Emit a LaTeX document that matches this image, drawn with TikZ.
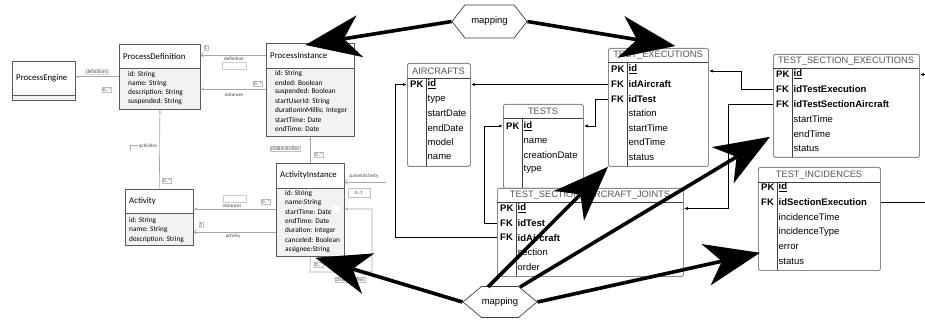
\documentclass[tikz,border=0pt]{standalone}
\usepackage{fontspec}
\setmainfont{Liberation Sans}
\newfontfamily\umlfont{Carlito}
\usetikzlibrary{arrows.meta,calc,shapes.symbols}
\definecolor{umlline}{HTML}{A6A6A6}
\definecolor{umlborder}{HTML}{5A5A5A}
\definecolor{umlfill}{HTML}{F2F2F2}
\definecolor{ergray}{HTML}{8A8A8A}
\definecolor{ertext}{HTML}{555555}
\tikzset{
  umlbox/.style={draw=umlborder, line width=0.7pt, inner sep=0pt},
  umltitle/.style={font={\umlfont\fontsize{8.8}{10}\selectfont}, anchor=west, inner sep=0pt},
  umlattr/.style={font={\umlfont\fontsize{7.3}{9}\selectfont}, anchor=west, inner sep=0pt},
  umlconn/.style={draw=umlline, line width=0.6pt},
  umllab/.style={font={\umlfont\fontsize{5}{6}\selectfont}, text=black!75, inner sep=0.8pt},
  umlboxlab/.style={umllab, draw=black!25, line width=0.3pt},
  emptylab/.style={draw=black!20, line width=0.3pt, inner sep=0pt},
  filledtip/.style={-{Latex[length=3pt,width=2.6pt]}},
  opentip/.style={-{Straight Barb[length=2.5pt,width=5pt]}},
  ertabbox/.style={draw=ergray, line width=0.8pt, rounded corners=1.5pt, fill=white, inner sep=0pt},
  erdiv/.style={draw=black!75, line width=0.6pt},
  ertitle/.style={font={\fontsize{9.3}{11}\selectfont}, text=ertext, inner sep=0pt},
  erkeyst/.style={font={\fontsize{9.5}{11}\selectfont\bfseries}, anchor=west, inner sep=0pt},
  erfld/.style={font={\fontsize{9.5}{11}\selectfont}, anchor=west, inner sep=0pt},
  erfk/.style={font={\fontsize{9.5}{11}\selectfont\bfseries}, anchor=west, inner sep=0pt},
  erconn/.style={draw=black, line width=0.8pt, -{Latex[length=4pt,width=3pt]}},
  erline/.style={draw=black, line width=0.8pt},
  mapnode/.style={signal, signal to=west and east, draw=black!75, line width=0.7pt, fill=white,
     font={\fontsize{9.5}{11}\selectfont}, inner sep=0pt},
  bigarrow/.style={draw=black, line width=3.6pt, -{Stealth[length=55pt,width=42pt,inset=16pt]}}
}
\newcommand\umlclass[7]{% name, x, y, w, h, header bottom y, title
  \node[umlbox, fill=umlfill, minimum width=#4pt, minimum height=#5pt, anchor=north west] (#1) at (#2,#3) {};
  \path[fill=white, draw=umlborder, line width=0.6pt] (#1.north west) rectangle (#2+#4,#6);
  \node[umltitle] (#1-title) at (#2+4,{(#3+#6)/2}) {#7};
}
\newcommand\ertable[8]{% name, x, y, w, h, header bottom y, divider x, title
  \node[ertabbox, minimum width=#4pt, minimum height=#5pt, anchor=north west] (#1) at (#2,#3) {};
  \draw[erdiv] (#2,#6) -- (#2+#4,#6);
  \draw[erdiv] (#7,#6) -- (#7,#3+#5);
  \node[ertitle] (#1-title) at ({#2+#4/2},{(#3+#6)/2+0.5}) {#8};
}
\begin{document}
\begin{tikzpicture}[x=1pt,y=-1pt]
\fill[white] (0,0) rectangle (925,320);
\useasboundingbox (0,0) rectangle (925,320);

% ---------------- UML classes ----------------
\umlclass{peng}{12}{61}{63}{39}{95}{ProcessEngine}

\umlclass{pdef}{119}{44}{81}{65}{68}{ProcessDefinition}
\node[umlattr] (pdef-a1) at (128,74.5) {id: String};
\node[umlattr] (pdef-a2) at (128,83.5) {name: String};
\node[umlattr] (pdef-a3) at (128,92.7) {description: String};
\node[umlattr] (pdef-a4) at (128,101.7) {suspended: String};

\umlclass{pinst}{266}{43}{88}{93}{68}{ProcessInstance}
\node[umlattr] (pinst-a1) at (275,73.5) {id: String};
\node[umlattr] (pinst-a2) at (275,82.8) {ended: Boolean};
\node[umlattr] (pinst-a3) at (275,92) {suspended: Boolean};
\node[umlattr] (pinst-a4) at (275,101.3) {startUserId: String};
\node[umlattr] (pinst-a5) at (275,110.6) {durationInMillis: Integer};
\node[umlattr] (pinst-a6) at (275,120) {startTime: Date};
\node[umlattr] (pinst-a7) at (275,129.3) {endTime: Date};

\umlclass{act}{125}{189}{68}{56}{213}{Activity}
\node[umlattr] (act-a1) at (129,220.7) {id: String};
\node[umlattr] (act-a2) at (129,230) {name: String};
\node[umlattr] (act-a3) at (129,239.3) {description: String};

\umlclass{ainst}{276}{163}{68}{93}{188}{ActivityInstance}
\node[umlattr] (ainst-a1) at (285,193.5) {id: String};
\node[umlattr] (ainst-a2) at (285,202.8) {name:String};
\node[umlattr] (ainst-a3) at (285,212) {startTime: Date};
\node[umlattr] (ainst-a4) at (285,221.3) {endTime: Date};
\node[umlattr] (ainst-a5) at (285,230.6) {duration: Integer};
\node[umlattr] (ainst-a6) at (285,240) {canceled: Boolean};
\node[umlattr] (ainst-a7) at (285,249.3) {assignee:String};
\node[fill=white, minimum width=7pt, minimum height=6pt, inner sep=0pt] (ainst-w) at (336.5,209) {};

% ---------------- UML associations ----------------
\draw[umlconn, filledtip] (pdef.west |- 0,76.7) -- (peng.east |- 0,76.7);
\node[umlboxlab, draw=black!15] (l-defs) at (97,71.5) {definitions};
\node[umlboxlab] (m-defs) at (107,90) {0..*};

\draw[umlconn, opentip] (pinst.west |- 0,55) -- (pdef.east |- 0,55);
\node[umllab] (l-def) at (234,58.5) {definition};
\node[emptylab, minimum width=24pt, minimum height=7pt] (e-def) at (234,65.5) {};
\node[umlboxlab] (m-def) at (206,47.5) {1};

\draw[umlconn, filledtip] (pinst.west |- 0,89) -- (pdef.east |- 0,89);
\node[umllab] (l-inst) at (234,95) {instances};
\node[umlboxlab] (m-inst) at (258,84) {0..*};

\draw[umlconn, filledtip] (act.north) -- (pdef.south);
\node[umllab] (l-acts) at (148,145.5) {activities};
\draw[umlconn, line width=0.4pt] (l-acts.west) -- ++(-8,0) -- ++(0,6);
\node[umlboxlab] (m-acts) at (167,181) {0..*};

\draw[umlconn, filledtip] (ainst.north) -- (pinst.south);
\node[umlboxlab] (l-child) at (285,149) {childActivities};
\node[umlboxlab] (m-child) at (319,155) {0..*};

\draw[umlconn, filledtip] (ainst.west |- 0,209) -- (act.east |- 0,209);
\node[umllab] (l-ainst) at (232,206) {instances};
\node[emptylab, minimum width=23pt, minimum height=7pt] (e-ainst) at (234.5,198.5) {};
\node[umlboxlab] (m-ainst) at (266,202) {0..*};

\draw[umlconn, opentip] (ainst.west |- 0,232) -- (act.east |- 0,232);
\node[umllab] (l-actv) at (233,236) {activity};
\node[umlboxlab] (m-actv) at (201,225) {1};

\coordinate (paEnd) at (386,182);
\draw[umlconn, opentip] (paEnd) -- (ainst.east |- paEnd);
\node[umllab] (l-par) at (364,176.5) {parentActivity};
\node[umlboxlab, minimum width=22pt, minimum height=9pt] (m-par) at (359,193) {0..1};

\draw[umlconn, filledtip] (ainst.south) -- (310,272) -- (372,272) -- (372,209) -- (ainst.east |- 0,209);
\node[umlboxlab] (m-loop) at (319,265) {0..*};
\node[umlboxlab] (l-loop) at (350,280) {childActivities};

% ---------------- ER tables ----------------
\ertable{air}{407}{63}{63}{103}{78}{426}{AIRCRAFTS}
\node[erkeyst] (air-pk) at (410,84.5) {PK};
\node[erfld] (air-id) at (427.5,84.5) {\textbf{\underline{id}}};
\node[erfld] (air-f2) at (427.5,99) {type};
\node[erfld] (air-f3) at (427.5,113.5) {startDate};
\node[erfld] (air-f4) at (427.5,128) {endDate};
\node[erfld] (air-f5) at (427.5,142.5) {model};
\node[erfld] (air-f6) at (427.5,157) {name};

\ertable{tests}{503}{104}{80}{84}{118}{522}{TESTS}
\node[erkeyst] (tests-pk) at (506,126) {PK};
\node[erfld] (tests-id) at (523.5,126) {\textbf{\underline{id}}};
\node[erfld] (tests-f2) at (523.5,140.5) {name};
\node[erfld] (tests-f3) at (523.5,155) {creationDate};
\node[erfld] (tests-f4) at (523.5,169.5) {type};

\ertable{te}{608}{48}{100}{118}{62}{627}{TEST\_EXECUTIONS}
\node[erkeyst] (te-pk) at (611,69.5) {PK};
\node[erfld] (te-id) at (628.5,69.5) {\textbf{\underline{id}}};
\node[erkeyst] (te-fk1) at (611,84.5) {FK};
\node[erfk] (te-f2) at (628.5,84.5) {idAircraft};
\node[erkeyst] (te-fk2) at (611,99) {FK};
\node[erfk] (te-f3) at (628.5,99) {idTest};
\node[erfld] (te-f4) at (628.5,113.5) {station};
\node[erfld] (te-f5) at (628.5,128) {startTime};
\node[erfld] (te-f6) at (628.5,142.5) {endTime};
\node[erfld] (te-f7) at (628.5,157) {status};

\ertable{tse}{773}{54}{146}{103}{68}{792}{TEST\_SECTION\_EXECUTIONS}
\node[erkeyst] (tse-pk) at (776,74.5) {PK};
\node[erfld] (tse-id) at (793.5,74.5) {\textbf{\underline{id}}};
\node[erkeyst] (tse-fk1) at (776,89.5) {FK};
\node[erfk] (tse-f2) at (793.5,89.5) {idTestExecution};
\node[erkeyst] (tse-fk2) at (776,104) {FK};
\node[erfk] (tse-f3) at (793.5,104) {idTestSectionAircraft};
\node[erfld] (tse-f4) at (793.5,119) {startTime};
\node[erfld] (tse-f5) at (793.5,134) {endTime};
\node[erfld] (tse-f6) at (793.5,148.5) {status};

\ertable{ti}{758}{167}{122}{103}{182}{777}{TEST\_INCIDENCES}
\node[erkeyst] (ti-pk) at (761,187.5) {PK};
\node[erfld] (ti-id) at (778.5,187.5) {\textbf{\underline{id}}};
\node[erkeyst] (ti-fk1) at (761,202.3) {FK};
\node[erfk] (ti-f2) at (778.5,202.3) {idSectionExecution};
\node[erfld] (ti-f3) at (778.5,217) {incidenceTime};
\node[erfld] (ti-f4) at (778.5,232) {incidenceType};
\node[erfld] (ti-f5) at (778.5,246.5) {error};
\node[erfld] (ti-f6) at (778.5,261.5) {status};

\ertable{tsaj}{497}{188}{186}{88}{202}{516}{TEST\_SECTION\_AIRCRAFT\_JOINTS}
\node[erkeyst] (tsaj-pk) at (500,208.5) {PK};
\node[erfld] (tsaj-id) at (517.5,208.5) {\textbf{\underline{id}}};
\node[erkeyst] (tsaj-fk1) at (500,223) {FK};
\node[erfk] (tsaj-f2) at (517.5,223) {idTest};
\node[erkeyst] (tsaj-fk2) at (500,237.7) {FK};
\node[erfk] (tsaj-f3) at (517.5,237.7) {idAircraft};
\node[erfld] (tsaj-f4) at (517.5,252.5) {section};
\node[erfld] (tsaj-f5) at (517.5,267) {order};

% ---------------- ER connectors ----------------
\draw[erconn] (te.west |- te-fk1) -- (air.east |- air-id);
\draw[erconn] (te.west |- te-fk2) -- ++(-13,0) |- (tests.east |- tests-id);
\draw[erconn] (tsaj.west |- tsaj-fk1) -- ++(-13,0) |- (tests.west |- tests-id);
\draw[erconn] (tsaj.west |- tsaj-fk2) -- ++(-102,0) |- (air.west |- air-id);
\draw[erconn] (tse.west |- tse-fk1) -- ++(-32,0) |- ([yshift=-1.5pt]te.east |- te-id);
\draw[erconn] (tse.west |- tse-fk2) -- ++(-45,0) |- (tsaj.east |- tsaj-id);
\coordinate (offA) at (925,74.5);
\draw[erconn] (offA) -- (tse.east |- tse-id);
\coordinate (offB) at (925,202.3);
\draw[erline] (ti.east |- ti-fk1) -- (offB);

% ---------------- mapping ----------------
\node[mapnode, minimum width=75pt, minimum height=33pt, signal pointer angle=104] (mapTop) at (489.5,21.5) {mapping};
\node[mapnode, minimum width=74pt, minimum height=31pt, signal pointer angle=80] (mapBot) at (500,302) {mapping};

\draw[bigarrow] (mapTop.west) -- ([xshift=-5pt,yshift=-2pt]pinst.north);
\draw[bigarrow] (mapTop.east) -- ([xshift=17pt,yshift=2pt]te.north);
\draw[bigarrow] (mapBot.west) -- ([xshift=5pt,yshift=-1pt]ainst.south);
\draw[bigarrow] ($(mapBot.center)+(-12,-15)$) -- (te.south west);
\draw[bigarrow] ($(mapBot.center)+(20,-15)$) -- ($(tse.south west)+(-3,-21)$);
\draw[bigarrow] (mapBot.east) -- ($(ti.south west)+(2,-18)$);
\end{tikzpicture}
\end{document}
